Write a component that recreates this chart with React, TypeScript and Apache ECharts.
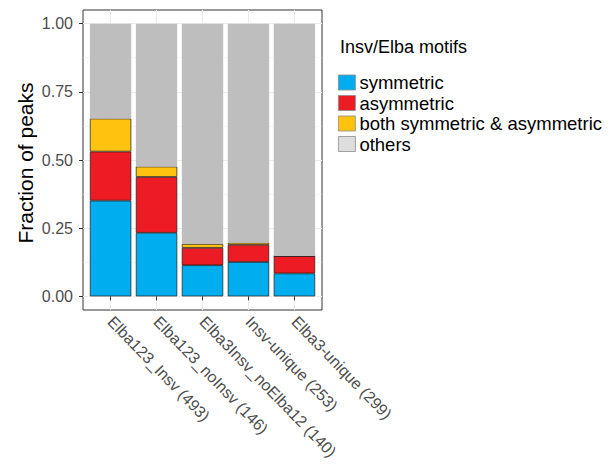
import React, { useEffect, useRef } from "react";
import * as echarts from "echarts";

const categories = [
  "Elba123_Insv (493)",
  "Elba123_noInsv (146)",
  "Elba3Insv_noElba12 (140)",
  "Insv-unique (253)",
  "Elba3-unique (299)",
];
const symmetric = [0.351, 0.233, 0.114, 0.126, 0.084];
const asymmetric = [0.18, 0.205, 0.064, 0.063, 0.064];
const both = [0.121, 0.038, 0.014, 0.008, 0.0];
const others = [0.348, 0.524, 0.808, 0.803, 0.852];
const yTicks = [0, 0.25, 0.5, 0.75, 1];
const yMinor = [0.125, 0.375, 0.625, 0.875];
const seriesNames = ["symmetric", "asymmetric", "both symmetric & asymmetric", "others"];

const FONT = "'Liberation Sans', Arial, Helvetica, sans-serif";

export default function App() {
  const ref = useRef<HTMLDivElement>(null);
  useEffect(() => {
    if (!ref.current) return;
    const chart = echarts.init(ref.current, null, { renderer: "svg" });
    const xs = categories.map((_, i) => i + 1);
    const colors = ["#00AEEF", "#ED1C24", "#FFC20E", "#BEBEBE"];
    const values = [symmetric, asymmetric, both, others];
    const panelLeft = 83;
    const panelWidth = 239;
    const unit = panelWidth / 5.2;
    chart.setOption({
      animation: false,
      backgroundColor: "#ffffff",
      textStyle: { fontFamily: FONT },
      grid: [
        {
          left: panelLeft,
          top: 10,
          width: panelWidth,
          height: 300,
          show: true,
          borderColor: "#333333",
          borderWidth: 1,
          backgroundColor: "transparent",
        },
        {
          left: panelLeft + 0.1 * unit,
          top: 10,
          width: 5 * unit,
          height: 300,
          show: false,
        },
      ],
      xAxis: [
        {
          type: "value",
          gridIndex: 0,
          min: 0.4,
          max: 5.6,
          axisLine: { show: false },
          axisTick: {
            show: true,
            length: 4,
            customValues: xs,
            lineStyle: { color: "#333333", width: 1 },
          },
          axisLabel: {
            customValues: xs,
            rotate: -46,
            margin: 9,
            fontSize: 16,
            color: "#4D4D4D",
            fontFamily: FONT,
            formatter: (v: number) => categories[Math.round(v) - 1] ?? "",
          },
          splitLine: { show: true, lineStyle: { color: "#EBEBEB", width: 1 } },
        },
        {
          type: "category",
          gridIndex: 1,
          data: categories,
          show: false,
        },
      ],
      yAxis: [
        {
          type: "value",
          gridIndex: 0,
          min: -0.05,
          max: 1.05,
          axisLine: { show: false },
          axisTick: {
            show: true,
            length: 4,
            customValues: yTicks,
            lineStyle: { color: "#333333", width: 1 },
          },
          axisLabel: {
            customValues: yTicks,
            margin: 10,
            fontSize: 16,
            color: "#4D4D4D",
            fontFamily: FONT,
            formatter: (v: number) => v.toFixed(2),
          },
          splitLine: { show: true, lineStyle: { color: "#EBEBEB", width: 1 } },
        },
        {
          type: "value",
          gridIndex: 0,
          min: -0.05,
          max: 1.05,
          position: "left",
          axisLine: { show: false },
          axisTick: { show: false, customValues: yMinor },
          axisLabel: { show: false, customValues: yMinor },
          splitLine: { show: true, lineStyle: { color: "#EBEBEB", width: 0.5 } },
        },
        {
          type: "value",
          gridIndex: 1,
          min: -0.05,
          max: 1.05,
          show: false,
          splitLine: { show: false },
        },
      ],
      legend: {
        orient: "vertical",
        left: 338,
        top: 73,
        icon: "rect",
        itemWidth: 17,
        itemHeight: 15,
        itemGap: 1.5,
        padding: 0,
        selectedMode: false,
        textStyle: { fontSize: 18.5, color: "#000000", fontFamily: FONT, lineHeight: 18, padding: [0, 0, 0, -1] },
        itemStyle: { borderColor: "#8C8C8C", borderWidth: 0.8 },
        data: [
          { name: seriesNames[0] },
          { name: seriesNames[1] },
          { name: seriesNames[2] },
          { name: seriesNames[3], itemStyle: { color: "#DDDDDD" } },
        ],
      },
      graphic: [
        {
          type: "text",
          x: 340,
          y: 47,
          style: {
            text: "Insv/Elba motifs",
            fontSize: 18,
            fontFamily: FONT,
            fill: "#000000",
            verticalAlign: "middle",
            align: "left",
          },
        },
        {
          type: "text",
          x: 25,
          y: 163,
          rotation: Math.PI / 2,
          style: {
            text: "Fraction of peaks",
            fontSize: 21,
            fontFamily: FONT,
            fill: "#000000",
            verticalAlign: "middle",
            align: "center",
          },
        },
      ],
      series: values.map((arr, k) => ({
        name: seriesNames[k],
        type: "bar",
        stack: "total",
        xAxisIndex: 1,
        yAxisIndex: 2,
        barWidth: "90%",
        data: arr,
        itemStyle: {
          color: colors[k],
          borderColor: k === 3 ? "transparent" : "#1A1A1A",
          borderWidth: k === 3 ? 0 : 0.7,
        },
      })),
    });
    return () => chart.dispose();
  }, []);
  return (
    <div
      ref={ref}
      style={{ position: "fixed", left: 0, top: 0, width: 611, height: 467, background: "#fff" }}
    />
  );
}
